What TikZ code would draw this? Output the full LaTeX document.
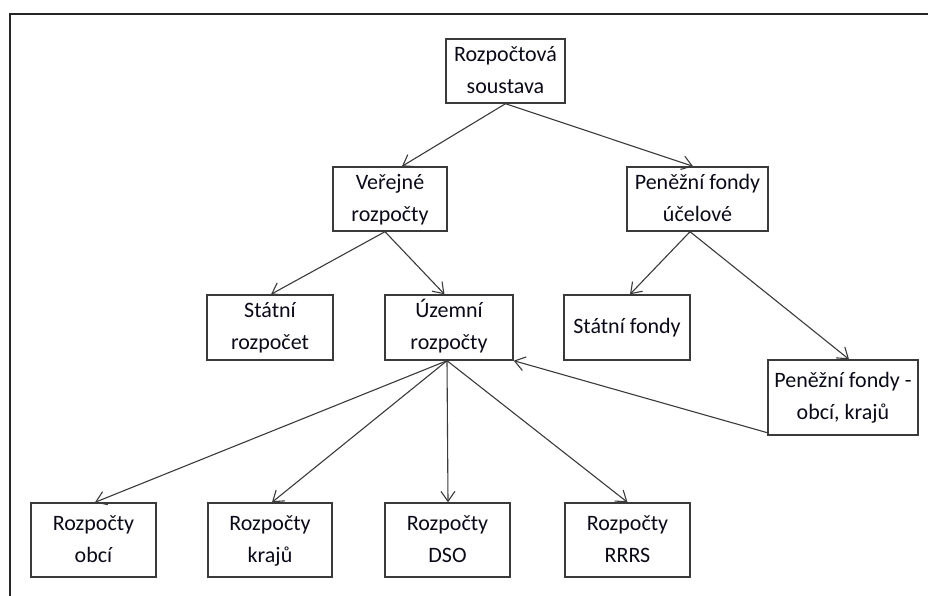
\documentclass[tikz,border=0pt]{standalone}
\usepackage{fontspec}
\setmainfont{Carlito}
\usetikzlibrary{arrows.meta}
\definecolor{linegray}{HTML}{3A3A3A}
\definecolor{textcol}{HTML}{0A0A18}
\begin{document}
\begin{tikzpicture}[x=1pt,y=-1pt,
  box/.style={draw=linegray,line width=1.4pt,rectangle,inner sep=0pt,align=center,
    text=textcol,font=\fontsize{22}{32}\selectfont},
  conn/.style={draw=linegray,line width=1.1pt,-{Straight Barb[length=10pt,width=14pt,line width=1.1pt]}}]
\useasboundingbox (0,0) rectangle (928,596);
\clip (0,0) rectangle (928,596);
\draw[line width=2pt,draw=black!85] (10,14) rectangle (960,640);
% boxes
\node[box,minimum width=119pt,minimum height=64pt] (root) at (505.5,71) {\strut Rozpočtová\\\strut soustava};
\node[box,minimum width=114pt,minimum height=64pt] (ver) at (390,199) {\strut Veřejné\\\strut rozpočty};
\node[box,minimum width=141pt,minimum height=64pt] (pen) at (697.5,199) {\strut Peněžní fondy\\\strut účelové};
\node[box,minimum width=126pt,minimum height=65pt] (str) at (270,327.5) {\strut Státní\\\strut rozpočet};
\node[box,minimum width=128pt,minimum height=65pt] (uze) at (449,327.5) {\strut Územní\\\strut rozpočty};
\node[box,minimum width=126pt,minimum height=65pt] (sf) at (627,327.5) {\strut Státní fondy};
\node[box,minimum width=150pt,minimum height=75pt] (pfo) at (843,397.5) {\strut Peněžní fondy -\\\strut obcí, krajů};
\node[box,minimum width=125pt,minimum height=74pt] (obc) at (93.5,540) {\strut Rozpočty\\\strut obcí};
\node[box,minimum width=124pt,minimum height=74pt] (kra) at (270,540) {\strut Rozpočty\\\strut krajů};
\node[box,minimum width=125pt,minimum height=74pt] (dso) at (447.5,540) {\strut Rozpočty\\\strut DSO};
\node[box,minimum width=125pt,minimum height=74pt] (rrrs) at (627.5,540) {\strut Rozpočty\\\strut RRRS};
% connectors
\draw[conn] (root.south) -- ([xshift=12pt]ver.north);
\draw[conn] (root.south) -- ([xshift=-4.5pt]pen.north);
\draw[conn] ([xshift=-5pt]ver.south) -- ([xshift=1pt]str.north);
\draw[conn] ([xshift=-5pt]ver.south) -- ([xshift=-4.5pt]uze.north);
\draw[conn] ([xshift=-7.5pt]pen.south) -- ([xshift=3pt]sf.north);
\draw[conn] ([xshift=-7.5pt]pen.south) -- ([xshift=6pt]pfo.north);
\draw[conn] ([yshift=3pt]pfo.south west) -- (uze.south east);
\draw[conn] ([xshift=-2pt]uze.south) -- ([xshift=1.5pt]obc.north);
\draw[conn] ([xshift=-2pt]uze.south) -- ([xshift=2pt]kra.north);
\draw[conn] ([xshift=-2pt]uze.south) -- ([xshift=0.5pt]dso.north);
\draw[conn] ([xshift=-2pt]uze.south) -- (rrrs.north);
\end{tikzpicture}
\end{document}
